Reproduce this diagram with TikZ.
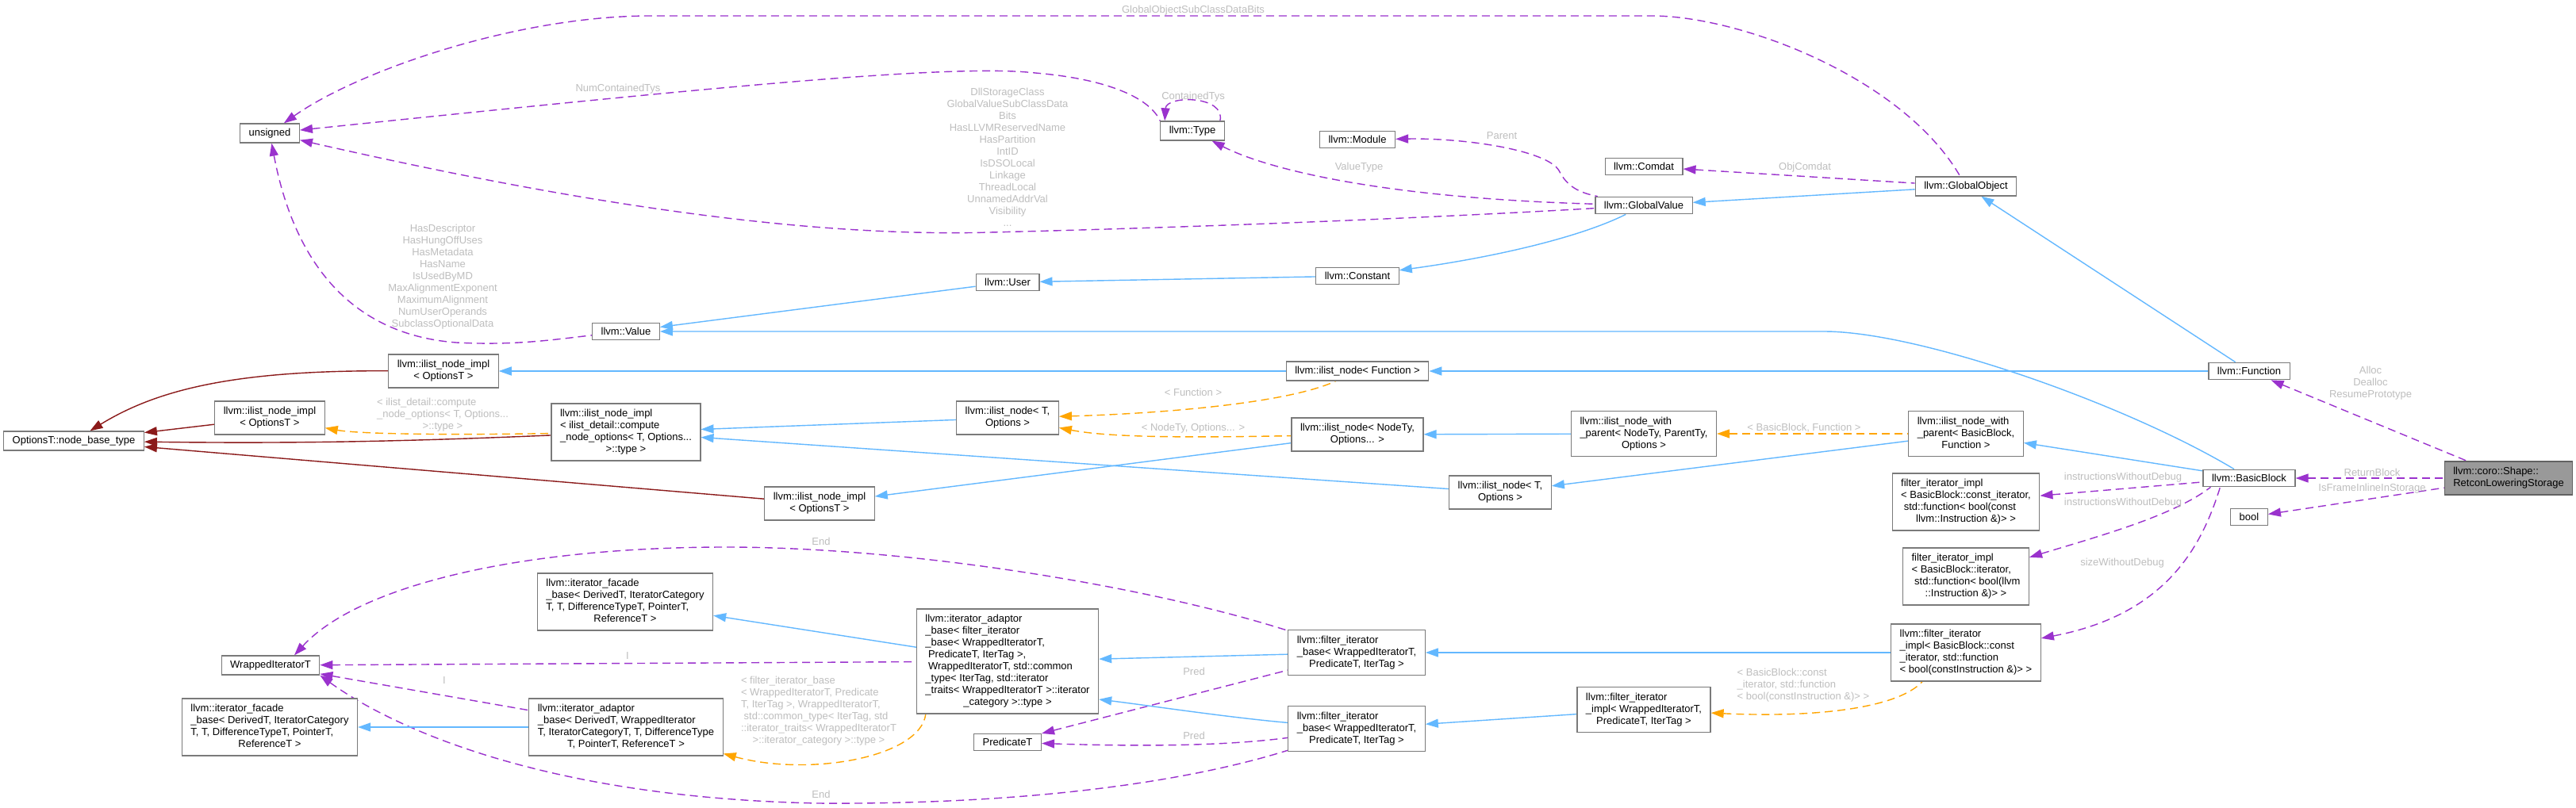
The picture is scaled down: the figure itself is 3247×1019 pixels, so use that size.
\documentclass[tikz,border=0pt]{standalone}
\usepackage{fontspec}
\setmainfont{Liberation Sans}
\usetikzlibrary{arrows.meta,backgrounds}
\definecolor{eblue}{HTML}{63B8FF}
\definecolor{epurple}{HTML}{9A32CD}
\definecolor{eorange}{HTML}{FFA500}
\definecolor{ered}{HTML}{8B1A1A}
\definecolor{labgray}{HTML}{BEBEBE}
\definecolor{boxgray}{HTML}{7A7A7A}
\definecolor{rootgray}{HTML}{999999}
\newcommand{\dl}[1]{\begin{tabular}{@{}l@{}}#1\end{tabular}}
\newcommand{\lc}[1]{\multicolumn{1}{@{}c@{}}{#1}}
\newcommand{\dc}[1]{\begin{tabular}{@{}c@{}}#1\end{tabular}}
\begin{document}
\begin{tikzpicture}[x=1pt,y=-1pt,
  every node/.style={font=\fontsize{13}{15}\selectfont},
  cls/.style={draw=boxgray, line width=1.2pt, fill=white, inner xsep=11pt, inner ysep=6pt, anchor=center},
  root/.style={cls, fill=rootgray, draw=boxgray!80!black},
  lab/.style={text=labgray, inner sep=0pt, anchor=center},
  inh/.style={draw=eblue, line width=1.4pt, {Triangle[length=16pt,width=11pt]}-},
  inhr/.style={inh, draw=ered},
  mem/.style={draw=epurple, line width=1.4pt, dash pattern=on 10pt off 6pt, {Triangle[length=16pt,width=11pt]}-},
  tmpl/.style={mem, draw=eorange}]
\useasboundingbox (0,0) rectangle (3247,1019);
% nodes
\node[cls] (uns) at (340,168) {unsigned};
\node[cls] (type) at (1503,165) {llvm::Type};
\node[cls] (module) at (1711,176) {llvm::Module};
\node[cls] (comdat) at (2072,210) {llvm::Comdat};
\node[cls] (gv) at (2072,259) {llvm::GlobalValue};
\node[cls] (go) at (2478,235) {llvm::GlobalObject};
\node[cls] (cnst) at (1711,348) {llvm::Constant};
\node[cls] (user) at (1270,356) {llvm::User};
\node[cls] (value) at (789,418) {llvm::Value};
\node[cls] (ninA) at (559,468) {\dl{llvm::ilist\_node\_impl\\\lc{< OptionsT >}}};
\node[cls] (inf) at (1711,468) {llvm::ilist\_node< Function >};
\node[cls] (func) at (2835,468) {llvm::Function};
\node[cls] (ninB) at (340,527) {\dl{llvm::ilist\_node\_impl\\\lc{< OptionsT >}}};
\node[cls] (opt) at (93,556) {OptionsT::node\_base\_type};
\node[cls] (comp) at (789,545) {\dl{llvm::ilist\_node\_impl\\< ilist\_detail::compute\\\_node\_options< T, Options...\\\lc{>::type >}}};
\node[cls] (int1) at (1270,527) {\dl{llvm::ilist\_node< T,\\\lc{Options >}}};
\node[cls] (inn) at (1711,548) {\dl{llvm::ilist\_node< NodeTy,\\\lc{Options... >}}};
\node[cls] (inwp1) at (2072,547) {\dl{llvm::ilist\_node\_with\\\_parent< NodeTy, ParentTy,\\\lc{Options >}}};
\node[cls] (inwp2) at (2478,547) {\dl{llvm::ilist\_node\_with\\\_parent< BasicBlock,\\\lc{Function >}}};
\node[cls] (bb) at (2835,603) {llvm::BasicBlock};
\node[root] (rls) at (3162,603) {\dl{llvm::coro::Shape::\\\lc{RetconLoweringStorage}}};
\node[cls] (bool) at (2835,652) {bool};
\node[cls] (fii1) at (2478,633) {\dl{filter\_iterator\_impl\\< BasicBlock::const\_iterator,\\\ std::function< bool(const\\\lc{llvm::Instruction \&)> >}}};
\node[cls] (fii2) at (2478,727) {\dl{filter\_iterator\_impl\\< BasicBlock::iterator,\\\ std::function< bool(llvm\\\lc{::Instruction \&)> >}}};
\node[cls] (int2) at (1891,621) {\dl{llvm::ilist\_node< T,\\\lc{Options >}}};
\node[cls] (ninD) at (1033,635) {\dl{llvm::ilist\_node\_impl\\\lc{< OptionsT >}}};
\node[cls] (f1) at (788,759) {\dl{llvm::iterator\_facade\\\_base< DerivedT, IteratorCategory\\T, T, DifferenceTypeT, PointerT,\\\lc{ReferenceT >}}};
\node[cls] (ad1) at (1270,834) {\dl{llvm::iterator\_adaptor\\\_base< filter\_iterator\\\_base< WrappedIteratorT,\\\ PredicateT, IterTag >,\\\ WrappedIteratorT, std::common\\\_type< IterTag, std::iterator\\\_traits< WrappedIteratorT >::iterator\\\lc{\_category >::type >}}};
\node[cls] (wit) at (341,839) {WrappedIteratorT};
\node[cls] (fib1) at (1710,823) {\dl{llvm::filter\_iterator\\\_base< WrappedIteratorT,\\\lc{PredicateT, IterTag >}}};
\node[cls] (fiil) at (2478,823) {\dl{llvm::filter\_iterator\\\_impl< BasicBlock::const\\\_iterator, std::function\\\lc{< bool(constInstruction \&)> >}}};
\node[cls] (f2) at (340,917) {\dl{llvm::iterator\_facade\\\_base< DerivedT, IteratorCategory\\T, T, DifferenceTypeT, PointerT,\\\lc{ReferenceT >}}};
\node[cls] (ad2) at (789,917) {\dl{llvm::iterator\_adaptor\\\_base< DerivedT, WrappedIterator\\T, IteratorCategoryT, T, DifferenceType\\\lc{T, PointerT, ReferenceT >}}};
\node[cls] (pred) at (1270,936) {PredicateT};
\node[cls] (fib2) at (1710,919) {\dl{llvm::filter\_iterator\\\_base< WrappedIteratorT,\\\lc{PredicateT, IterTag >}}};
\node[cls] (fii3) at (2072,895) {\dl{llvm::filter\_iterator\\\_impl< WrappedIteratorT,\\\lc{PredicateT, IterTag >}}};
% edge labels
\node[lab] (lgosd) at (1504,13) {GlobalObjectSubClassDataBits};
\node[lab] (lnct) at (779,112) {NumContainedTys};
\node[lab] (lct) at (1504,122) {ContainedTys};
\node[lab] (lgv) at (1270,200) {\dc{DllStorageClass\\GlobalValueSubClassData\\Bits\\HasLLVMReservedName\\HasPartition\\IntID\\IsDSOLocal\\Linkage\\ThreadLocal\\UnnamedAddrVal\\Visibility\\...}};
\node[lab] (lvt) at (1713,211) {ValueType};
\node[lab] (lpar) at (1893,171) {Parent};
\node[lab] (loc) at (2275,211) {ObjComdat};
\node[lab] (lval) at (558,349) {\dc{HasDescriptor\\HasHungOffUses\\HasMetadata\\HasName\\IsUsedByMD\\MaxAlignmentExponent\\MaximumAlignment\\NumUserOperands\\SubclassOptionalData}};
\node[lab] (lend1) at (1035,683) {End};
\node[lab] (li1) at (791,827) {I};
\node[lab] (li2) at (560,858) {I};
\node[lab] (lend2) at (1035,1002) {End};
\node[lab] (lpred1) at (1505,847) {Pred};
\node[lab] (lpred2) at (1505,928) {Pred};
\node[lab] (lalloc) at (2988,483) {\dc{Alloc\\Dealloc\\ResumePrototype}};
\node[lab] (lrb) at (2990,596) {ReturnBlock};
\node[lab] (lifs) at (2990,616) {IsFrameInlineInStorage};
\node[lab] (liwd1) at (2676,602) {instructionsWithoutDebug};
\node[lab] (liwd2) at (2676,634) {instructionsWithoutDebug};
\node[lab] (lswd) at (2675,710) {sizeWithoutDebug};
\node[lab] (lfn) at (1504,495) {< Function >};
\node[lab] (lnto) at (1504,540) {< NodeTy, Options... >};
\node[lab] (lcomp) at (558,523) {\dl{< ilist\_detail::compute\\\_node\_options< T, Options...\\\lc{>::type >}}};
\node[lab] (lbbf) at (2274,540) {< BasicBlock, Function >};
\node[lab] (lfib) at (1032,897) {\dl{< filter\_iterator\_base\\< WrappedIteratorT, Predicate\\T, IterTag >, WrappedIteratorT,\\\ std::common\_type< IterTag, std\\::iterator\_traits< WrappedIteratorT\\\lc{>::iterator\_category >::type >}}};
\node[lab] (lbbc) at (2273,864) {\dl{< BasicBlock::const\\\_iterator, std::function\\\lc{< bool(constInstruction \&)> >}}};
% edges
\begin{scope}[on background layer]
\fill[white] (0,0) rectangle (3247,1019);
% member (purple)
\draw[mem] (uns) .. controls (450,90) and (650,20) .. (820,20) -- (2086,20) .. controls (2200,22) and (2400,100) .. (go);
\draw[mem] (uns) .. controls (900,110) and (1200,80) .. (1305,92) .. controls (1400,100) and (1450,125) .. (type.north west);
\draw[mem] ([xshift=6pt]type.north west) .. controls (1470,120) and (1545,120) .. ([xshift=-6pt]type.north east);
\draw[mem] (uns) .. controls (700,250) and (1000,300) .. (1248,293) .. controls (1500,287) and (1800,275) .. (gv);
\draw[mem] (type) .. controls (1600,215) and (1750,250) .. (gv);
\draw[mem] (module) .. controls (1850,174) and (1950,190) .. (1965,215) .. controls (1975,235) and (1990,243) .. (gv);
\draw[mem] (comdat) -- (go);
\draw[mem] (uns) .. controls (365,300) and (420,420) .. (575,432) .. controls (650,436) and (700,428) .. (value);
\draw[mem] ([xshift=30pt]wit.north) .. controls (450,740) and (650,690) .. (915,690) .. controls (1150,690) and (1450,740) .. (fib1);
\draw[mem] (wit) -- (ad1);
\draw[mem] (wit) -- (ad2);
\draw[mem] (wit.south east) .. controls (470,900) and (650,1005) .. (1030,1013) .. controls (1300,1015) and (1500,985) .. (fib2);
\draw[mem] (pred) -- (fib1);
\draw[mem] (pred) .. controls (1450,942) and (1550,940) .. (fib2);
\draw[mem] (func) -- (rls);
\draw[mem] (bb) -- (rls);
\draw[mem] (bool) -- (rls);
\draw[mem] (fii1) -- (bb);
\draw[mem] (fii2) .. controls (2650,675) and (2740,650) .. ([xshift=10pt]bb.south west);
\draw[mem] (fiil) .. controls (2730,775) and (2775,690) .. ([xshift=22pt]bb.south west);
% template (orange)
\draw[tmpl] (int1) .. controls (1450,522) and (1620,510) .. (inf);
\draw[tmpl] (int1) .. controls (1400,552) and (1500,552) .. (inn);
\draw[tmpl] (ninB) .. controls (450,547) and (550,549) .. (comp);
\draw[tmpl] (inwp1) -- (inwp2);
\draw[tmpl] (ad2) .. controls (1020,980) and (1160,955) .. ([xshift=12pt]ad1.south west);
\draw[tmpl] (fii3) .. controls (2280,905) and (2390,895) .. ([xshift=40pt]fiil.south west);
% inheritance (blue)
\draw[inh] (value) -- (user);
\draw[inh] (user) -- (cnst);
\draw[inh] (cnst) .. controls (1880,325) and (1990,300) .. (gv);
\draw[inh] (gv) -- (go);
\draw[inh] (go) -- (func);
\draw[inh] (value) -- (2299,418) .. controls (2420,418) and (2680,510) .. (bb);
\draw[inh] (ninA) -- (inf);
\draw[inh] (inf) -- (func);
\draw[inh] (comp) -- (int1);
\draw[inh] (comp) -- (int2);
\draw[inh] (ninD) -- (inn);
\draw[inh] (inn) -- (inwp1);
\draw[inh] (int2) -- (inwp2);
\draw[inh] (inwp2) -- (bb);
\draw[inh] (f2) -- (ad2);
\draw[inh] (f1) -- (ad1);
\draw[inh] (ad1) -- (fib1);
\draw[inh] ([yshift=-48pt]ad1.east) .. controls (1450,890) and (1550,905) .. (fib2);
\draw[inh] (fib1) -- (fiil);
\draw[inh] (fib2) -- (fii3);
% inheritance (dark red)
\draw[inhr] (opt) .. controls (200,490) and (300,467) .. (ninA);
\draw[inhr] (opt) -- (ninB);
\draw[inhr] (opt) .. controls (400,560) and (550,555) .. (comp);
\draw[inhr] (opt) -- (ninD);
\end{scope}
\end{tikzpicture}
\end{document}
